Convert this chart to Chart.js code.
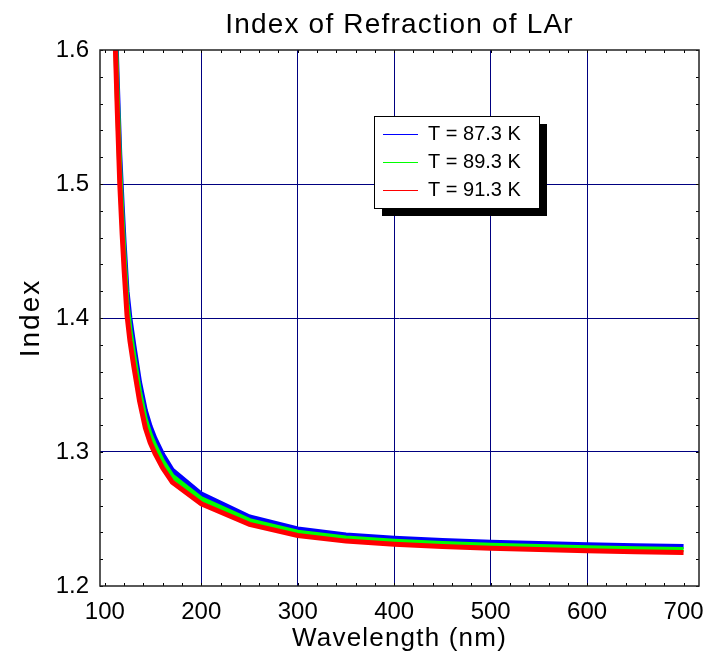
<!doctype html>
<html lang="en">
  <head>
    <meta charset="utf-8">
    <title>Index of Refraction of LAr</title>
    <style>
      * {
        margin: 0;
        padding: 0;
      }
      body {
        background: white;
      }
      .chartBox {
        width: 709px;
        height: 658px;
      }
    </style>
  </head>
  <body>
    <div class="chartBox">
      <canvas id="myChart"></canvas>
    </div>
    <script src="https://cdn.jsdelivr.net/npm/chart.js"></script>
    <script>
    // values
    const wavelength = [110, 111, 113, 115.5, 118, 120, 123, 126, 130, 136, 142, 147, 152, 160, 170, 200, 250, 300, 350, 400, 450, 500, 550, 600, 650, 700];
    const index873 = [1.647, 1.622, 1.575, 1.522, 1.484, 1.456, 1.420, 1.400, 1.380, 1.352, 1.331, 1.319, 1.310, 1.298, 1.2864, 1.2686, 1.2515, 1.2425, 1.2381, 1.2357, 1.2340, 1.2327, 1.2317, 1.2308, 1.2301, 1.2295];
    const index893 = [1.636, 1.611, 1.564, 1.511, 1.473, 1.446, 1.411, 1.3915, 1.372, 1.345, 1.3245, 1.313, 1.3045, 1.293, 1.2819, 1.2650, 1.2488, 1.2401, 1.2358, 1.2334, 1.2317, 1.2304, 1.2294, 1.2285, 1.2278, 1.2272];
    const index913 = [1.625, 1.600, 1.553, 1.500, 1.462, 1.436, 1.402, 1.383, 1.364, 1.338, 1.318, 1.307, 1.299, 1.288, 1.2774, 1.2614, 1.2460, 1.2377, 1.2335, 1.2312, 1.2295, 1.2282, 1.2272, 1.2263, 1.2256, 1.2250];
    const seriesLabels = ['T = 87.3 K', 'T = 89.3 K', 'T = 91.3 K'];
    const seriesColors = ['#0000ff', '#00ff00', '#ff0000'];

    const xTicks = [100, 200, 300, 400, 500, 600, 700];
    const yTicks = [1.2, 1.3, 1.4, 1.5, 1.6];

    const FONT = '"Liberation Sans", Arial, sans-serif';
    const GRID = '#000080';

    const pts = arr => wavelength.map((w, i) => ({x: w, y: arr[i]}));

    const data = {
      datasets: [index873, index893, index913].map((arr, i) => ({
        label: seriesLabels[i],
        data: pts(arr),
        borderColor: seriesColors[i],
        borderWidth: 5,
        pointRadius: 0,
        tension: 0,
        clip: 0,
        order: 3 - i   // red ends up on top
      }))
    };

    // frame, small inward ticks, title, axis titles and legend box
    const decor = {
      id: 'decor',
      afterDraw(chart) {
        const {ctx, chartArea: a, scales: {x, y}} = chart;
        ctx.save();
        ctx.strokeStyle = '#000';
        ctx.lineWidth = 1;
        ctx.beginPath();
        for (let v = 100; v <= 700; v += 20) {
          const px = Math.round(x.getPixelForValue(v)) + 0.5;
          ctx.moveTo(px, a.bottom); ctx.lineTo(px, a.bottom - 3);
          ctx.moveTo(px, a.top); ctx.lineTo(px, a.top + 3);
        }
        for (let k = 0; k <= 20; k++) {
          const py = Math.round(y.getPixelForValue(1.2 + k * 0.02)) + 0.5;
          ctx.moveTo(a.left, py); ctx.lineTo(a.left + 3, py);
          ctx.moveTo(a.right, py); ctx.lineTo(a.right - 3, py);
        }
        ctx.stroke();

        ctx.lineWidth = 1.5;
        ctx.strokeStyle = '#222';
        ctx.strokeRect(a.left, a.top, a.right - a.left, a.bottom - a.top);

        ctx.fillStyle = '#000';
        ctx.textAlign = 'center';
        ctx.textBaseline = 'alphabetic';
        ctx.letterSpacing = '1.2px';
        ctx.font = '28px ' + FONT;
        ctx.fillText('Index of Refraction of LAr', (a.left + a.right) / 2, 33);
        ctx.font = '26px ' + FONT;
        ctx.fillText('Wavelength (nm)', (a.left + a.right) / 2, 646);
        ctx.letterSpacing = '2px';
        ctx.font = '28px ' + FONT;
        ctx.save();
        ctx.translate(39, (a.top + a.bottom) / 2);
        ctx.rotate(-Math.PI / 2);
        ctx.fillText('Index', 0, 0);
        ctx.restore();
        ctx.letterSpacing = '0px';

        // legend with drop shadow
        const lx = 374, ly = 116, lw = 165, lh = 92;
        ctx.fillStyle = '#000';
        ctx.fillRect(lx + 8, ly + 8, lw, lh);
        ctx.fillStyle = '#fff';
        ctx.fillRect(lx, ly, lw, lh);
        ctx.lineWidth = 1;
        ctx.strokeStyle = '#000';
        ctx.strokeRect(lx + 0.5, ly + 0.5, lw, lh);
        ctx.font = '20px ' + FONT;
        ctx.textAlign = 'left';
        seriesLabels.forEach((lab, i) => {
          const ry = ly + 17.5 + i * 28.3;
          ctx.strokeStyle = seriesColors[i];
          ctx.beginPath();
          ctx.moveTo(lx + 9, Math.round(ry) + 0.5);
          ctx.lineTo(lx + 44, Math.round(ry) + 0.5);
          ctx.stroke();
          ctx.fillStyle = '#000';
          ctx.fillText(lab, lx + 54, ry + 6);
        });
        ctx.restore();
      }
    };

    const config = {
      type: 'line',
      data,
      options: {
        responsive: true,
        maintainAspectRatio: false,
        animation: false,
        layout: {padding: {top: 50, right: 10, left: 0, bottom: 0}},
        plugins: {
          legend: {display: false},
          tooltip: {enabled: false},
          title: {display: false}
        },
        scales: {
          x: {
            type: 'linear',
            min: 95,
            max: 716,
            afterBuildTicks: scale => { scale.ticks = xTicks.map(v => ({value: v})); },
            afterFit: scale => {
              scale.height = 72;
              scale.paddingLeft = 0;
              scale.paddingRight = 0;
            },
            ticks: {
              autoSkip: false,
              maxRotation: 0,
              padding: 12,
              color: '#000',
              font: {family: FONT, size: 24}
            },
            grid: {
              drawTicks: false,
              color: c => (c.tick && (c.tick.value === 100 || c.tick.value === 700)) ? 'rgba(0,0,0,0)' : GRID
            },
            border: {display: false}
          },
          y: {
            min: 1.2,
            max: 1.6,
            afterBuildTicks: scale => { scale.ticks = yTicks.map(v => ({value: v})); },
            afterFit: scale => {
              scale.width = 100;
              scale.paddingTop = 0;
              scale.paddingBottom = 0;
            },
            ticks: {
              padding: 11,
              color: '#000',
              font: {family: FONT, size: 24},
              callback: v => v.toFixed(1)
            },
            grid: {
              drawTicks: false,
              color: c => (c.tick && (c.tick.value === 1.2 || c.tick.value === 1.6)) ? 'rgba(0,0,0,0)' : GRID
            },
            border: {display: false}
          }
        }
      },
      plugins: [decor]
    };

    const myChart = new Chart(document.getElementById('myChart'), config);
    </script>
  </body>
</html>
